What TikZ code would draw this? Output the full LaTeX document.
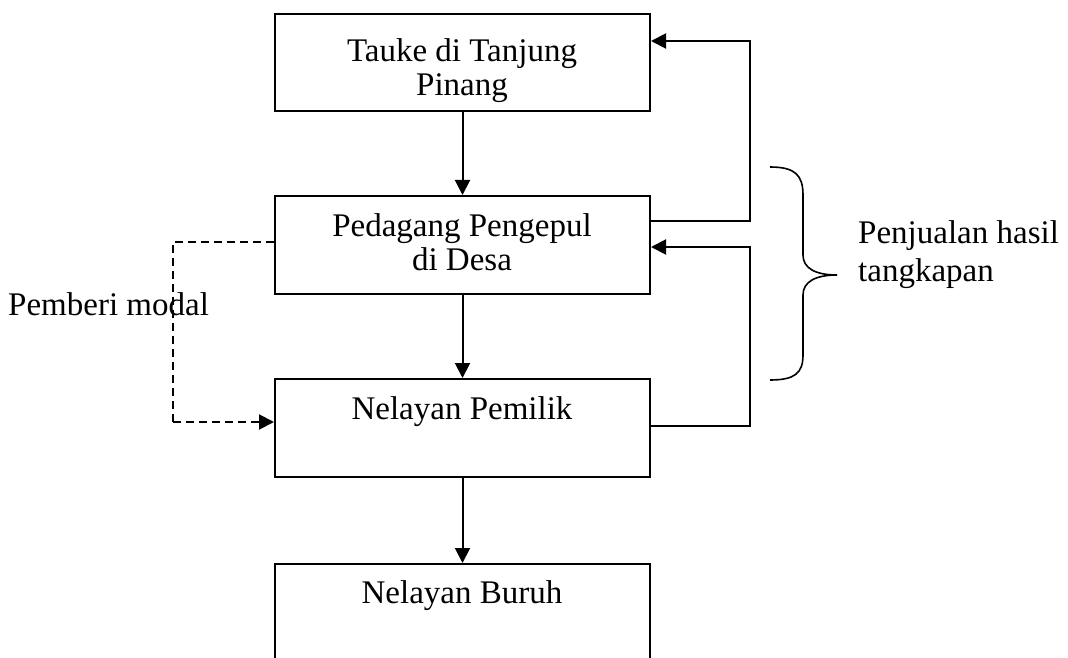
\documentclass[tikz,border=0pt]{standalone}
\usepackage{fontspec}
\setmainfont{Liberation Serif}
\usetikzlibrary{arrows.meta}
\begin{document}
\begin{tikzpicture}[x=1bp,y=-1bp,
  box/.style={draw,line width=2bp,inner sep=0pt,anchor=north west},
  lbl/.style={font=\fontsize{33bp}{34bp}\selectfont,align=center,anchor=base,inner sep=0pt},
  side/.style={font=\fontsize{33bp}{38bp}\selectfont,align=left,anchor=base west,inner sep=0pt},
  tip/.style={-{Triangle[length=15bp,width=15bp]}},
  arr/.style={line width=2bp,tip},
  con/.style={line width=1.6bp},
  dsh/.style={line width=2bp,dash pattern=on 8bp off 5bp}]
\useasboundingbox (0,0) rectangle (1068,658);
\node[box,minimum width=375bp,minimum height=97bp] (b1) at (274,13) {};
\node[box,minimum width=375bp,minimum height=98bp] (b2) at (274,195) {};
\node[box,minimum width=375bp,minimum height=98bp] (b3) at (274,378) {};
\node[box,minimum width=375bp,minimum height=120bp] (b4) at (274,563) {};
\node[lbl] (t1) at (462,96) {Tauke di Tanjung\\Pinang};
\node[lbl] (t2) at (462,270) {Pedagang Pengepul\\di Desa};
\node[lbl] (t3) at (462,419) {Nelayan Pemilik};
\node[lbl] (t4) at (462,603) {Nelayan Buruh};
\node[side] (pm) at (8,315) {Pemberi modal};
\node[side] (pj) at (858,281) {Penjualan hasil\\tangkapan};
\coordinate (r1) at (750,41);
\coordinate (r2) at (750,221);
\coordinate (r3) at (750,247);
\coordinate (r4) at (750,426);
\coordinate (d1) at (173,242);
\coordinate (d2) at (173,422);
\draw[arr] (b1.south) -- (b2.north);
\draw[arr] (b2.south) -- (b3.north);
\draw[arr] (b3.south) -- (b4.north);
\draw[arr] (b2.east |- r2) -- (r2) -- (r1) -- (b1.east |- r1);
\draw[arr] (b3.east |- r4) -- (r4) -- (r3) -- (b2.east |- r3);
\draw[dsh] (b2.west |- d1) -- (d1) -- (d2);
\draw[dsh,tip] (d2) -- (b3.west |- d2);
\draw[con] (770,167) .. controls (795,167) and (803,175) .. (803,195)
  -- (803,255) .. controls (803,268) and (815,275) .. (837,275)
  .. controls (815,275) and (803,282) .. (803,295)
  -- (803,355) .. controls (803,373) and (795,380) .. (770,380);
\end{tikzpicture}
\end{document}
